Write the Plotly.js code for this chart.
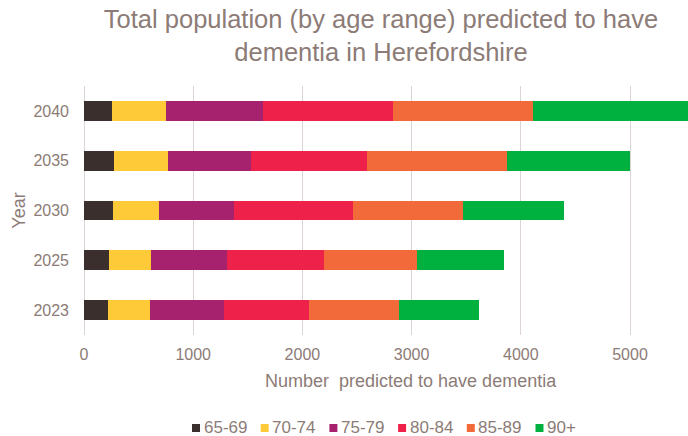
<!DOCTYPE html>
<html>
<head>
<meta charset="utf-8">
<script src="https://cdn.plot.ly/plotly-3.0.1.min.js"></script>
<style>html,body{margin:0;padding:0;overflow:hidden;background:#fff}</style>
</head>
<body>
<div id="chart" style="width:688px;height:436px"></div>
<script>
const years = ["2023", "2025", "2030", "2035", "2040"];
const ageGroups = ["65-69", "70-74", "75-79", "80-84", "85-89", "90+"];
const v6569 = [217, 228, 270, 278, 253];
const v7074 = [384, 381, 417, 491, 498];
const v7579 = [677, 704, 683, 761, 886];
const v8084 = [786, 883, 1093, 1061, 1196];
const v8589 = [819, 850, 1010, 1281, 1277];
const v90p  = [736, 797, 926, 1132, 1500];
const colors = ["#3a2f2d", "#ffca38", "#a6226e", "#ee214b", "#f26a3a", "#00b140"];
const seriesValues = [v6569, v7074, v7579, v8084, v8589, v90p];

const txt = "#8c7b76";
const font = "Arial, 'Liberation Sans', sans-serif";
const W = 688, H = 436;
const ML = 84, MR = 0, MT = 86, MB = 101;
const PW = W - ML - MR, PH = H - MT - MB;
const px = (x) => (x - ML) / PW;          // container px -> paper x
const py = (y) => (H - MB - y) / PH;      // container px -> paper y

const traces = ageGroups.map((g, i) => ({
  type: "bar",
  orientation: "h",
  name: g,
  y: years,
  x: seriesValues[i],
  marker: {color: colors[i], line: {width: 0}},
  showlegend: false,
  hoverinfo: "x+name"
}));

// custom legend (square swatch + label) laid out like the reference
const legendShapes = [];
const legendAnns = [];
ageGroups.forEach((g, i) => {
  const x0 = 192 + 68.7 * i;
  legendShapes.push({
    type: "rect", xref: "paper", yref: "paper",
    x0: px(x0), x1: px(x0 + 8), y0: py(432), y1: py(424),
    fillcolor: colors[i], line: {width: 0}
  });
  legendAnns.push({
    text: g, xref: "paper", yref: "paper",
    x: px(x0 + 9.5), y: py(427), xanchor: "left", yanchor: "middle",
    showarrow: false, font: {size: 17, color: txt}
  });
});

const layout = {
  width: W, height: H,
  margin: {l: ML, r: MR, t: MT, b: MB},
  paper_bgcolor: "#ffffff",
  plot_bgcolor: "#ffffff",
  barmode: "stack",
  bargap: 0.6,
  font: {family: font, color: txt, size: 16},
  title: {
    text: "Total population (by age range) predicted to have<br>dementia in Herefordshire",
    font: {family: font, size: 25.5, color: txt},
    x: 381 / W, xref: "container", xanchor: "center",
    y: 1 - 27.5 / H, yref: "container", yanchor: "top"
  },
  xaxis: {
    range: [0, 5531],
    tickvals: [0, 1000, 2000, 3000, 4000, 5000],
    showgrid: true, gridcolor: "#dcd4d4", gridwidth: 1,
    zeroline: true, zerolinecolor: "#dcd4d4", zerolinewidth: 1,
    showline: false, ticks: "",
    tickfont: {size: 16, color: txt},
    ticklabelstandoff: 8,
    fixedrange: true
  },
  yaxis: {
    type: "category",
    showgrid: false, zeroline: false, showline: false, ticks: "",
    tickfont: {size: 16, color: txt},
    ticklabelstandoff: 14,
    title: {text: "Year", font: {size: 18, color: txt}, standoff: 3},
    fixedrange: true
  },
  shapes: legendShapes,
  annotations: [
    {
      text: "Number  predicted to have dementia",
      xref: "paper", yref: "paper",
      x: px(411), y: py(381),
      xanchor: "center", yanchor: "middle",
      showarrow: false,
      font: {size: 18, color: txt}
    }
  ].concat(legendAnns)
};

Plotly.newPlot("chart", traces, layout, {displayModeBar: false, staticPlot: true});
</script>
</body>
</html>
